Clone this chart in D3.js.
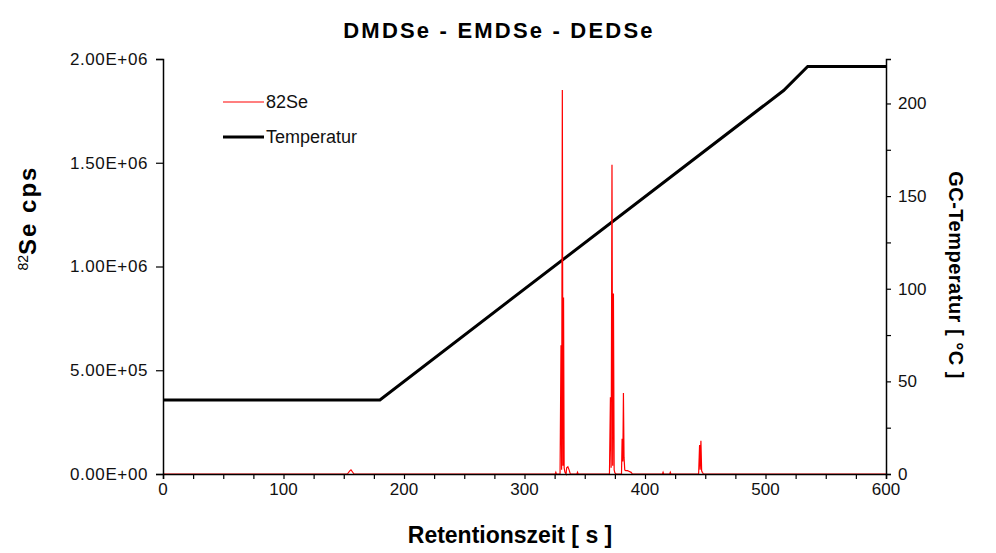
<!DOCTYPE html>
<html>
<head>
<meta charset="utf-8">
<script src="https://cdn.jsdelivr.net/npm/d3@7"></script>
<style>
  body { margin: 0; background: #fff; }
  text { font-family: 'Liberation Sans', Arial, sans-serif; }
</style>
</head>
<body>
<div id="grafica"></div>
<script>
// 82Se signal (cps) against retention time (s)
seTime = [0, 153, 155, 156, 157, 158.5,
          325.5, 326, 326.5, 329.5, 330.3, 330.8, 331.4, 331.9, 332.4, 332.9, 333.5, 334.5, 335, 336, 337, 338,
          343.5, 344, 344.5,
          370.5, 371.3, 371.9, 372.6, 373.2, 373.8, 374.4, 375, 376, 377, 378, 379.5,
          380.5, 381, 381.6, 382.1, 382.6, 383.2, 384, 385.5, 387, 388.5, 389.5,
          414.5, 415, 415.5, 420.5, 421, 421.5,
          444.5, 445.3, 445.8, 446.4, 447, 447.6, 448.5, 600]
seCps  = [0, 0, 15000, 20000, 12000, 0,
          0, 8000, 0, 0, 620000, 20000, 1850000, 40000, 850000, 30000, 10000, 0, 30000, 35000, 20000, 0,
          0, 8000, 0,
          0, 370000, 30000, 1490000, 40000, 870000, 20000, 5000, 0, 0, 0, 0,
          0, 170000, 60000, 390000, 80000, 20000, 16000, 16000, 12000, 8000, 0,
          0, 8000, 0, 0, 8000, 0,
          0, 140000, 20000, 160000, 15000, 8000, 0, 0]

// GC oven program (°C)
tempTime = [0, 180, 515, 535, 600]
tempVal  = [40, 40, 207, 220, 220]

xTicks  = [0, 100, 200, 300, 400, 500, 600]
yTicks  = [0, 500000, 1000000, 1500000, 2000000]
y2Ticks = [0, 50, 100, 150, 200]

ancho_total = 996
alto_total  = 553
margin = { left: 163, right: 110, top: 59, bottom: 79 }
ancho = ancho_total - margin.left - margin.right
alto  = alto_total - margin.top - margin.bottom

svg = d3
        .select('#grafica')
        .append('svg')
        .attr('width', ancho_total)
        .attr('height', alto_total)

g = svg
      .append('g')
      .attr('transform', 'translate(' + margin.left + ',' + margin.top + ')')

x  = d3.scaleLinear().domain([0, 600]).range([0, ancho])
y  = d3.scaleLinear().domain([0, 2000000]).range([alto, 0])
y2 = d3.scaleLinear().domain([0, 224]).range([alto, 0])

seData   = seTime.map((t, i) => ({ t: t, v: seCps[i] }))
tempData = tempTime.map((t, i) => ({ t: t, v: tempVal[i] }))

// temperature first, signal on top
g.append('path')
  .datum(tempData)
  .attr('d', d3.line().x((d) => x(d.t)).y((d) => y2(d.v)))
  .attr('fill', 'none')
  .attr('stroke', 'black')
  .attr('stroke-width', 3)

g.append('path')
  .datum(seData)
  .attr('d', d3.line().x((d) => x(d.t)).y((d) => y(d.v)))
  .attr('fill', 'none')
  .attr('stroke', '#ff0000')
  .attr('stroke-width', 1.2)

// axes
fmtE = (d) => {
  s = d3.format('.2e')(d).toUpperCase()
  return s.replace(/E([+-])(\d)$/, 'E$10$2')
}

xAxis = g.append('g')
          .attr('transform', `translate(0, ${alto})`)
          .call(d3.axisBottom(x).tickValues(d3.range(0, 601, 25)).tickSize(5).tickFormat(''))
xAxis.append('g')
      .selectAll('text')
      .data(xTicks)
      .join('text')
        .attr('x', (d) => x(d))
        .attr('y', 21)
        .attr('text-anchor', 'middle')
        .attr('font-size', '17px')
        .attr('fill', '#111')
        .text((d) => d)

yAxis = g.append('g')
          .call(d3.axisLeft(y).tickValues(yTicks).tickSize(7).tickFormat(fmtE))
yAxis.selectAll('text')
      .attr('font-size', '17px')
      .attr('letter-spacing', '0.6px')
      .attr('fill', '#111')
      .attr('x', -15)

y2Axis = g.append('g')
           .attr('transform', `translate(${ancho}, 0)`)
           .call(d3.axisRight(y2).tickValues(d3.range(0, 224, 25)).tickSize(5).tickFormat(''))
y2Axis.append('g')
       .selectAll('text')
       .data(y2Ticks)
       .join('text')
         .attr('x', 12)
         .attr('y', (d) => y2(d))
         .attr('dy', '0.35em')
         .attr('font-size', '17px')
         .attr('fill', '#111')
         .text((d) => d)

g.selectAll('.domain').attr('stroke', 'black').attr('stroke-width', 1.5)
g.selectAll('.tick line').attr('stroke', 'black').attr('stroke-width', 1.2)

// titles
svg.append('text')
    .attr('x', 499)
    .attr('y', 38)
    .attr('text-anchor', 'middle')
    .attr('font-size', '22px')
    .attr('font-weight', 'bold')
    .attr('letter-spacing', '2.2px')
    .text('DMDSe - EMDSe - DEDSe')

svg.append('text')
    .attr('x', 510)
    .attr('y', 543)
    .attr('text-anchor', 'middle')
    .attr('font-size', '23px')
    .attr('font-weight', 'bold')
    .text('Retentionszeit [ s ]')

lbl = svg.append('text')
          .attr('transform', 'translate(36, 218) rotate(-90)')
          .attr('text-anchor', 'middle')
          .attr('font-weight', 'bold')
lbl.append('tspan').attr('font-size', '14px').attr('font-weight', 'normal').attr('dy', -8).text('82')
lbl.append('tspan').attr('font-size', '24px').attr('letter-spacing', '2px').attr('dy', 8).text('Se cps')

svg.append('text')
    .attr('transform', 'translate(949, 275) rotate(90)')
    .attr('text-anchor', 'middle')
    .attr('font-size', '20px')
    .attr('font-weight', 'bold')
    .attr('letter-spacing', '0.5px')
    .text('GC-Temperatur [ °C ]')

// legend
legend = [
  { name: '82Se', color: '#ff0000', w: 1.2, y: 102 },
  { name: 'Temperatur', color: 'black', w: 3, y: 137 }
]
lg = svg.selectAll('.leg').data(legend).join('g').attr('class', 'leg')
lg.append('line')
    .attr('x1', 223).attr('x2', 264)
    .attr('y1', (d) => d.y).attr('y2', (d) => d.y)
    .attr('stroke', (d) => d.color)
    .attr('stroke-width', (d) => d.w)
lg.append('text')
    .attr('x', 266)
    .attr('y', (d) => d.y)
    .attr('dy', '0.35em')
    .attr('font-size', '18px')
    .attr('fill', '#111')
    .text((d) => d.name)
</script>
</body>
</html>
